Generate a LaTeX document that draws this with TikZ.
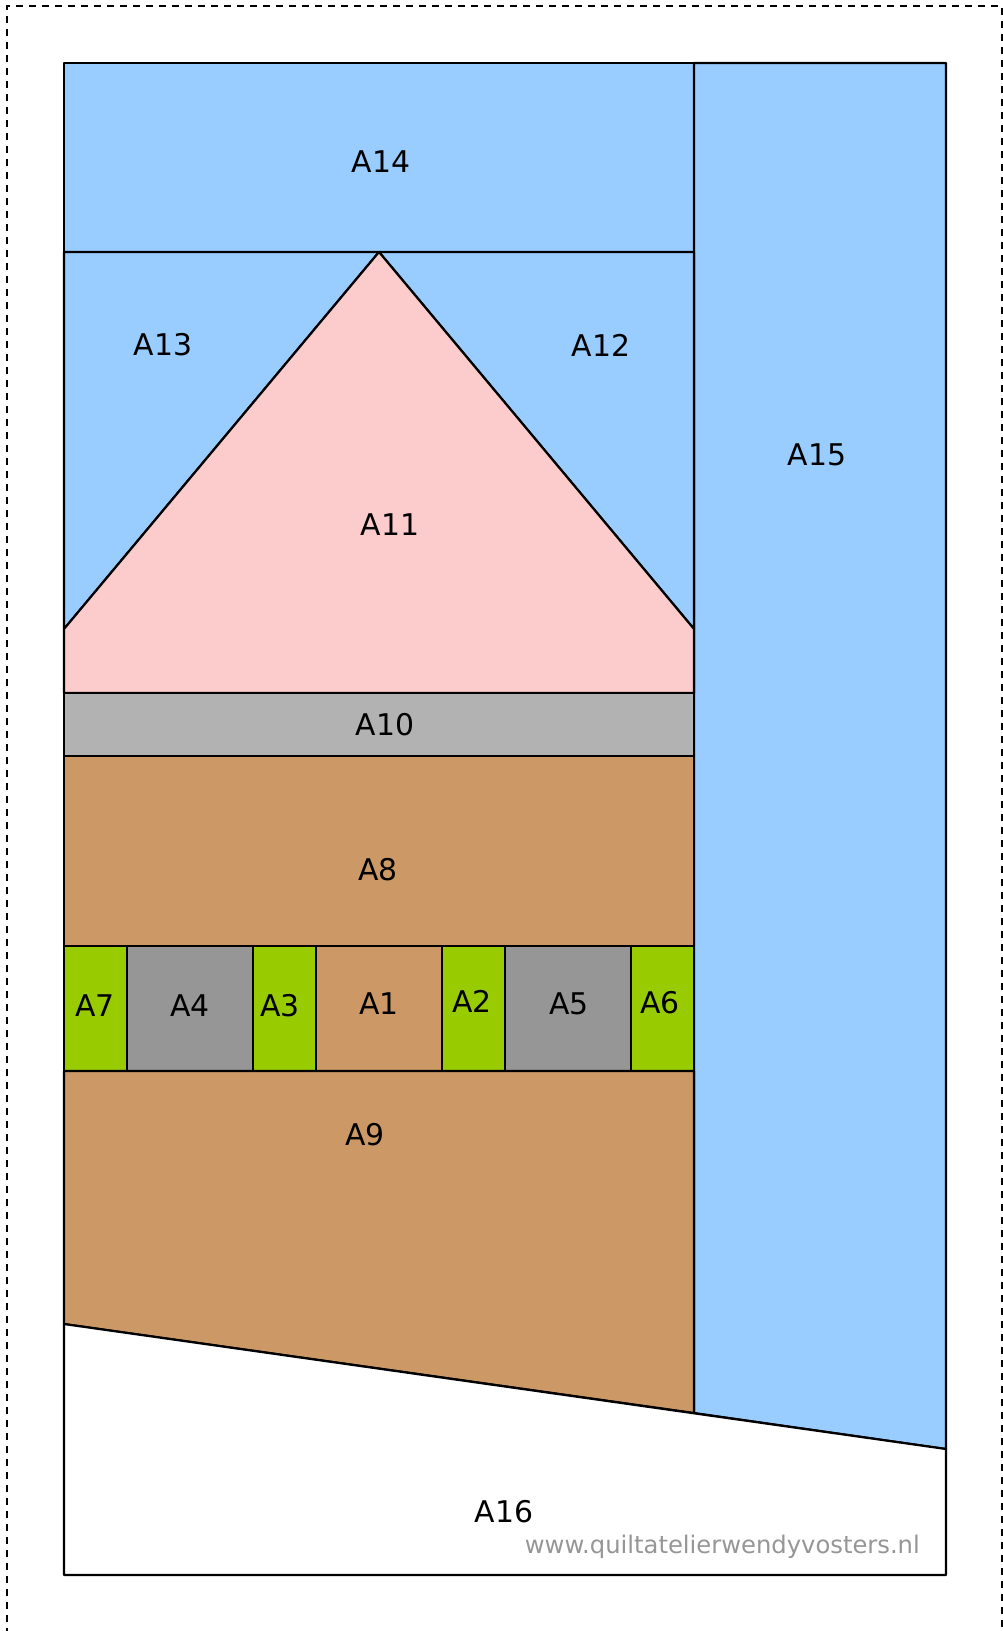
\documentclass[tikz,border=0pt]{standalone}
\usepackage{fontspec}
\setmainfont{DejaVu Sans}
\definecolor{sky}{HTML}{99CCFF}
\definecolor{rose}{HTML}{FCCBCB}
\definecolor{stone}{HTML}{B2B2B2}
\definecolor{clay}{HTML}{CC9966}
\definecolor{leaf}{HTML}{99CC00}
\definecolor{slate}{HTML}{969696}
\begin{document}
\begin{tikzpicture}
  [x=0.2mm,y=-0.2mm,every node/.style={font=\fontsize{17}{20}\selectfont},
   patch/.style={draw,line width=1.25pt,line join=round}]
 \clip (0,0) rectangle (1003,1631);
 \fill[white] (0,0) rectangle (1003,1631);
 \draw[line width=0.8pt,dash pattern=on 1.4mm off 1.2mm] (7,1700) -- (7,6) -- (1002,6) -- (1002,1700);

 \coordinate (apex) at (379,252);
 \coordinate (sl) at (64,1324);
 \coordinate (sm) at (694,1413);
 \coordinate (sr) at (946,1449);

 \filldraw[patch,fill=sky] (64,63) rectangle (694,252);
 \filldraw[patch,fill=sky] (694,63) -- (946,63) -- (sr) -- (sm) -- cycle;
 \filldraw[patch,fill=sky] (64,252) -- (apex) -- (64,629) -- cycle;
 \filldraw[patch,fill=sky] (apex) -- (694,252) -- (694,629) -- cycle;
 \filldraw[patch,fill=rose] (apex) -- (694,629) -- (694,693) -- (64,693) -- (64,629) -- cycle;
 \filldraw[patch,fill=stone] (64,693) rectangle (694,756);
 \filldraw[patch,fill=clay] (64,756) rectangle (694,946);
 \foreach \xa/\xb/\col in {64/127/leaf,127/253/slate,253/316/leaf,316/442/clay,442/505/leaf,505/631/slate,631/694/leaf}
    \filldraw[patch,fill=\col] (\xa,946) rectangle (\xb,1071);
 \filldraw[patch,fill=clay] (64,1071) -- (694,1071) -- (sm) -- (sl) -- cycle;
 \filldraw[patch,fill=white] (sl) -- (sr) -- (946,1575) -- (64,1575) -- cycle;

 \foreach \n/\x/\y in {14/381/162,13/163/345,12/601/345,15/817/455,11/390/525,10/385/725,8/378/870,
    7/95/1006,4/190/1006,3/280/1006,1/379/1004,2/472/1001,5/569/1004,6/660/1003,9/365/1135,16/504/1512}
    \node (a\n) at (\x,\y) {A\n};
 \node (web)[anchor=base east,text=slate,font=\fontsize{13.8}{16}\selectfont] at (926,1553) {www.quiltatelierwendyvosters.nl};
\end{tikzpicture}
\end{document}
